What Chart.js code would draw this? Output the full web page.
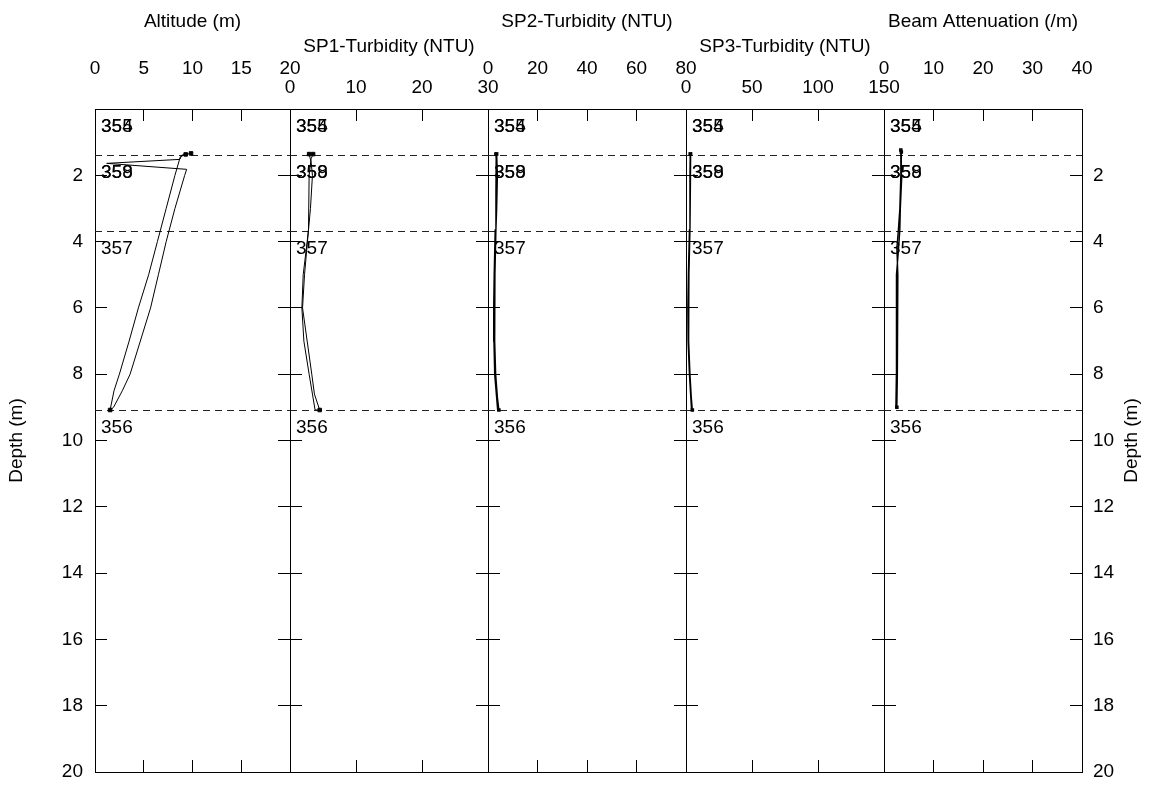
<!DOCTYPE html>
<html>
<head>
<meta charset="utf-8">
<script src="https://cdn.jsdelivr.net/npm/chart.js@4.4.1/dist/chart.umd.min.js"></script>
<style>
  html, body { margin: 0; padding: 0; background: #fff; }
  #wrap { position: relative; width: 1150px; height: 787px; }
  #wrap canvas { position: absolute; left: 0; top: 0; }
</style>
</head>
<body>
<div id="wrap">
  <canvas id="p0" width="1150" height="787"></canvas>
  <canvas id="p1" width="1150" height="787"></canvas>
  <canvas id="p2" width="1150" height="787"></canvas>
  <canvas id="p3" width="1150" height="787"></canvas>
  <canvas id="p4" width="1150" height="787"></canvas>
</div>
<script>
/* ─── Data (depth in m, down cast then up cast) ───────────── */
const altDepth  = [1.34, 1.39, 1.52, 1.64, 1.82, 2.0, 3.0, 4.0, 5.0, 6.0, 7.0, 8.0, 8.5, 9.0, 9.08,
                   8.5, 8.0, 7.0, 6.0, 5.0, 4.0, 3.0, 2.0, 1.44, 1.37];
const altValue  = [9.85, 8.9, 8.7, 1.2, 9.4, 9.2, 8.2, 7.3, 6.5, 5.7, 4.65, 3.6, 2.8, 1.9, 1.55,
                   1.95, 2.5, 3.5, 4.45, 5.5, 6.4, 7.3, 8.2, 8.75, 9.3];

const sp1Depth  = [1.36, 1.6, 2.0, 3.0, 3.65, 5.0, 6.0, 7.0, 8.0, 8.6, 9.08,
                   9.08, 8.6, 8.0, 7.0, 6.0, 5.0, 4.0, 3.65, 2.0, 1.5, 1.36];
const sp1Value  = [2.9, 3.2, 3.4, 3.1, 2.8, 2.2, 1.9, 2.6, 3.3, 3.7, 4.5,
                   3.8, 3.4, 2.9, 2.1, 1.8, 2.0, 2.6, 2.8, 2.9, 3.2, 3.5];

const sp2Depth  = [1.36, 2.0, 3.0, 3.65, 5.0, 6.0, 7.0, 8.0, 8.7, 9.08,
                   9.08, 8.0, 7.0, 6.0, 5.0, 3.65, 2.5, 1.5, 1.36];
const sp2Value  = [3.5, 3.8, 3.5, 3.2, 2.8, 2.6, 2.8, 3.1, 3.8, 4.4,
                   3.9, 2.7, 2.4, 2.3, 2.5, 2.9, 3.2, 3.3, 3.2];

const sp3Depth  = [1.36, 2.0, 3.65, 5.0, 6.0, 7.0, 8.0, 8.7, 9.08,
                   9.08, 8.0, 7.0, 6.0, 5.0, 3.65, 2.0, 1.36];
const sp3Value  = [3.5, 3.4, 3.0, 2.2, 1.8, 2.2, 3.0, 4.0, 4.8,
                   4.2, 2.6, 1.6, 1.4, 1.8, 2.6, 3.0, 3.2];

const beamDepth = [1.24, 2.0, 3.0, 3.65, 4.2, 5.0, 6.0, 7.0, 8.0, 9.0,
                   9.0, 8.0, 7.0, 6.0, 5.0, 4.3, 3.65, 3.0, 2.0, 1.3];
const beamValue = [3.4, 3.4, 3.2, 2.9, 2.6, 2.8, 2.7, 2.7, 2.7, 2.6,
                   2.4, 2.5, 2.55, 2.5, 2.5, 2.9, 3.2, 3.3, 3.6, 3.5];

// station / event markers
const eventIds    = ['354', '355', '358', '359', '357', '356'];
const eventDepths = [0, 0, 1.39, 1.39, 3.68, 9.08];

const panelTitles = ['Altitude (m)', 'SP1-Turbidity (NTU)', 'SP2-Turbidity (NTU)', 'SP3-Turbidity (NTU)', 'Beam Attenuation (/m)'];
const panelMax    = [20, 30, 80, 150, 40];
const panelStep   = [5, 10, 20, 50, 10];
const depthMax    = 20;
const depthStep   = 2;

/* ─── Layout ──────────────────────────────────────────────── */
const W = 1150, H = 787;
const PLOT_TOP = 109, PLOT_BOTTOM = 772;
const EDGES = [95, 290, 488, 686, 884, 1082];
const FONT = { family: '"Liberation Sans", Arial, Helvetica, sans-serif', size: 19 };

Chart.defaults.color = '#000';
Chart.defaults.font.family = FONT.family;

const series = [
  [altDepth, altValue], [sp1Depth, sp1Value], [sp2Depth, sp2Value],
  [sp3Depth, sp3Value], [beamDepth, beamValue],
];

const eventPlugin = {
  id: 'events',
  beforeDatasetsDraw(chart) {
    const { ctx, chartArea: a, scales: { y } } = chart;
    ctx.save();
    ctx.setLineDash([7, 5]);
    ctx.strokeStyle = '#222';
    ctx.lineWidth = 1;
    [...new Set(eventDepths)].filter(d => d > 0).forEach(d => {
      const py = Math.round(y.getPixelForValue(d)) + 0.5;
      ctx.beginPath(); ctx.moveTo(a.left, py); ctx.lineTo(a.right, py); ctx.stroke();
    });
    ctx.restore();
  },
  afterDatasetsDraw(chart) {
    const { ctx, chartArea: a, scales: { y } } = chart;
    ctx.save();
    ctx.font = `${FONT.size}px ${FONT.family}`;
    ctx.fillStyle = '#000';
    ctx.textBaseline = 'top';
    eventIds.forEach((id, k) => ctx.fillText(id, a.left + 6, y.getPixelForValue(eventDepths[k]) + 8));
    ctx.restore();
  },
};

const rightTitlePlugin = {
  id: 'rightTitle',
  afterDraw(chart) {
    const { ctx, chartArea: a } = chart;
    ctx.save();
    ctx.font = `${FONT.size}px ${FONT.family}`;
    ctx.fillStyle = '#000';
    ctx.textAlign = 'center';
    ctx.textBaseline = 'middle';
    ctx.translate(1132, (a.top + a.bottom) / 2);
    ctx.rotate(-Math.PI / 2);
    ctx.fillText('Depth (m)', 0, 0);
    ctx.restore();
  },
};

const tickGrid = { drawOnChartArea: false, tickLength: -12, color: '#000', lineWidth: 1 };
const border = { display: true, color: '#000', width: 1 };

// pin every axis box to a fixed size so the plot areas line up across panels
function pin(size) {
  return s => {
    if (s.isHorizontal()) s.height = size; else s.width = size;
    s.paddingLeft = s.paddingRight = s.paddingTop = s.paddingBottom = 0;
  };
}

function makePanel(i) {
  const [depth, vals] = series[i];
  const deepest = depth.indexOf(Math.max(...depth));
  const lowRow = i % 2 === 1;
  const last = depth.length - 1;
  const markSize = i < 2 ? 2.5 : 1.5;

  new Chart(document.getElementById('p' + i), {
    type: 'scatter',
    data: {
      datasets: [{
        data: depth.map((d, k) => ({ x: vals[k], y: d })),
        showLine: true,
        borderColor: '#000', backgroundColor: '#000',
        borderWidth: i < 2 ? 1 : 1.4,
        pointStyle: 'rect',
        pointRadius: c => (c.dataIndex === 0 || c.dataIndex === last || c.dataIndex === deepest) ? markSize : 0,
        xAxisID: 'x', yAxisID: 'y',
      }],
    },
    options: {
      responsive: false, animation: false, devicePixelRatio: 1,
      layout: { padding: 0 },
      plugins: { legend: { display: false }, tooltip: { enabled: false } },
      scales: {
        x: {
          type: 'linear', position: 'top', min: 0, max: panelMax[i],
          ticks: { stepSize: panelStep[i], autoSkip: false, maxRotation: 0, font: FONT, padding: lowRow ? 21.6 : 40.6 },
          grid: tickGrid, border,
          title: { display: true, text: panelTitles[i], font: FONT, padding: { top: lowRow ? 35 : 10.6, bottom: 0 } },
          afterFit: pin(PLOT_TOP),
        },
        x2: {
          type: 'linear', position: 'bottom', min: 0, max: panelMax[i],
          ticks: { stepSize: panelStep[i], display: false },
          grid: tickGrid, border,
          afterFit: pin(H - PLOT_BOTTOM),
        },
        y: {
          type: 'linear', position: 'left', reverse: true, min: 0, max: depthMax,
          ticks: { stepSize: depthStep, autoSkip: false, display: i === 0, font: FONT, padding: 24, callback: v => v === 0 ? '' : v },
          grid: tickGrid, border,
          title: { display: i === 0, text: 'Depth (m)', font: FONT, padding: { top: 5.6, bottom: 0 } },
          afterFit: pin(EDGES[i]),
        },
        y2: {
          type: 'linear', position: 'right', reverse: true, min: 0, max: depthMax,
          ticks: { stepSize: depthStep, autoSkip: false, display: i === 4, font: FONT, padding: 23, callback: v => v === 0 ? '' : v },
          grid: tickGrid, border,
          afterFit: pin(W - EDGES[i + 1]),
        },
      },
    },
    plugins: i === 4 ? [eventPlugin, rightTitlePlugin] : [eventPlugin],
  });
}

for (let i = 0; i < 5; i++) makePanel(i);
</script>
</body>
</html>
